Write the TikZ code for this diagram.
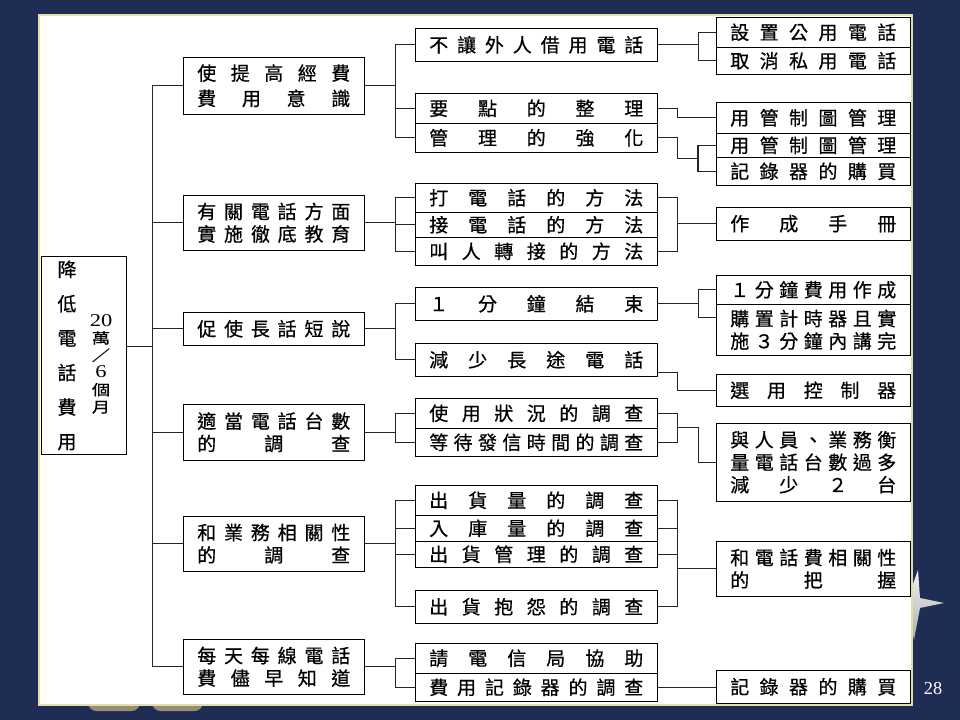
\documentclass[tikz,border=0pt]{standalone}
\usepackage{fontspec}
\setmainfont{Noto Sans CJK TC}[FakeBold=0.6]
\newfontfamily\numfont{Liberation Serif}
\usepackage{graphicx}
\usepackage{tikz}
\usetikzlibrary{positioning, calc}

\definecolor{slidebg}{RGB}{31,45,85}
\definecolor{panelrim}{RGB}{226,222,170}
\definecolor{tabtan}{RGB}{150,142,115}

% spread the characters of one line over a fixed width
\makeatletter
\newcommand\spreadline[2]{\makebox[#1][s]{\@tfor\sp@ch:=#2\do{\sp@ch\hfill}\unskip}}
\makeatother
\newcommand\lonetext[1]{\spreadline{3.825cm}{#1}}
\newcommand\ltwotext[1]{\spreadline{5.35cm}{#1}}
\newcommand\lthreetext[1]{\spreadline{4.15cm}{#1}}

\begin{document}
\begin{tikzpicture}[
        x=0.025cm, y=-0.025cm,
        box/.style={rectangle, draw, inner sep=0pt, anchor=north west, align=center,
            font=\fontsize{13.5}{16}\selectfont},
        ht/.style={minimum height=#1*0.025cm},
        lone/.style={box, minimum width=181*0.025cm},
        ltwo/.style={box, minimum width=242*0.025cm},
        lthree/.style={box, minimum width=194*0.025cm},
        link/.style={draw, line width=0.8pt, black!85},
    ]
        % Slide
        \useasboundingbox (0,0) rectangle (960,720);
        \fill[slidebg] (0,0) rectangle (960,720);
        \shade[top color=gray!10, bottom color=gray!65]
            (918,570) -- (920,598) -- (944,603) -- (920,608) -- (914,640)
            -- (908,608) -- (884,603) -- (908,598) -- cycle;
        \fill[tabtan, rounded corners=6pt] (88,690) rectangle (140,711);
        \fill[tabtan, rounded corners=6pt] (152,690) rectangle (203,711);
        \draw[panelrim, fill=white, line width=1pt] (39,15) rectangle (912,705);
        \node[white, font=\numfont\fontsize{13}{13}\selectfont] (page) at (933,689) {28};

        % Root
        \node[box, minimum width=85*0.025cm, ht=198] (root) at (41,256) {};
        \node[font=\fontsize{13.5}{24.5}\selectfont, align=center] (rootl) at (67,355.5)
            {降\\低\\電\\話\\費\\用};
        \node (rootr) at (101,364) {\scalebox{1}[0.8]{\parbox{2em}{\centering
            \fontsize{13}{15.3}\selectfont {\numfont\fontsize{16}{15.3}\selectfont 20}\\萬\\／\\
            {\numfont\fontsize{16}{15.3}\selectfont 6}\\個\\月}}};

        % Level 1
        \node[lone, ht=57] (s1) at (183,57) {\lonetext{使提高經費}\\[2pt]\lonetext{費用意識}};
        \node[lone, ht=55] (s2) at (183,195) {\lonetext{有關電話方面}\\\lonetext{實施徹底教育}};
        \node[lone, ht=33] (s3) at (183,312) {\lonetext{促使長話短說}};
        \node[lone, ht=56] (s4) at (183,404) {\lonetext{適當電話台數}\\\lonetext{的調查}};
        \node[lone, ht=55] (s5) at (183,516) {\lonetext{和業務相關性}\\\lonetext{的調查}};
        \node[lone, ht=55] (s6) at (183,639) {\lonetext{每天每線電話}\\\lonetext{費儘早知道}};

        % Level 2
        \node[ltwo, ht=33] (a1) at (415,28) {\ltwotext{不讓外人借用電話}};
        \node[ltwo, ht=30] (a2) at (415,93) {\ltwotext{要點的整理}};
        \node[ltwo, ht=29] (a3) at (415,123) {\ltwotext{管理的強化}};
        \node[ltwo, ht=29] (b1) at (415,183) {\ltwotext{打電話的方法}};
        \node[ltwo, ht=25] (b2) at (415,212) {\ltwotext{接電話的方法}};
        \node[ltwo, ht=28] (b3) at (415,237) {\ltwotext{叫人轉接的方法}};
        \node[ltwo, ht=33] (c1) at (415,287) {\ltwotext{１分鐘結束}};
        \node[ltwo, ht=33] (c2) at (415,343) {\ltwotext{減少長途電話}};
        \node[ltwo, ht=30] (d1) at (415,398) {\ltwotext{使用狀況的調查}};
        \node[ltwo, ht=28] (d2) at (415,428) {\ltwotext{等待發信時間的調查}};
        \node[ltwo, ht=30] (e1) at (415,485) {\ltwotext{出貨量的調查}};
        \node[ltwo, ht=26] (e2) at (415,515) {\ltwotext{入庫量的調查}};
        \node[ltwo, ht=26] (e3) at (415,541) {\ltwotext{出貨管理的調查}};
        \node[ltwo, ht=33] (e4) at (415,590) {\ltwotext{出貨抱怨的調查}};
        \node[ltwo, ht=30] (f1) at (415,643) {\ltwotext{請電信局協助}};
        \node[ltwo, ht=28] (f2) at (415,673) {\ltwotext{費用記錄器的調查}};

        % Level 3
        \node[lthree, ht=30] (p1) at (716,17) {\lthreetext{設置公用電話}};
        \node[lthree, ht=27] (p2) at (716,47) {\lthreetext{取消私用電話}};
        \node[lthree, ht=31] (q1) at (716,102) {\lthreetext{用管制圖管理}};
        \node[lthree, ht=24] (q2) at (716,133) {\lthreetext{用管制圖管理}};
        \node[lthree, ht=28] (q3) at (716,157) {\lthreetext{記錄器的購買}};
        \node[lthree, ht=33] (r1) at (716,207) {\lthreetext{作成手冊}};
        \node[lthree, ht=29] (t1) at (716,275) {\lthreetext{１分鐘費用作成}};
        \node[lthree, ht=51] (t2) at (716,304) {\lthreetext{購置計時器且實}\\\lthreetext{施３分鐘內講完}};
        \node[lthree, ht=32] (u1) at (716,374) {\lthreetext{選用控制器}};
        \node[lthree, ht=78] (v1) at (716,423)
            {\lthreetext{與人員、業務衡}\\\lthreetext{量電話台數過多}\\\lthreetext{減少２台}};
        \node[lthree, ht=55] (w1) at (716,541) {\lthreetext{和電話費相關性}\\\lthreetext{的把握}};
        \node[lthree, ht=33] (x1) at (716,670) {\lthreetext{記錄器的購買}};

        % Root to level 1
        \coordinate (rt) at ([shift={(0,-9)}]root.east);
        \foreach \n in {s1,s2,s3,s4,s5,s6}
            \draw[link] (rt) -- ++(26,0) |- (\n.west);

        % Level 1 to level 2
        \foreach \n in {a1,a2,a3} \draw[link] (s1.east) -- ++(31,0) |- (\n.west);
        \foreach \n in {b1,b2,b3} \draw[link] (s2.east) -- ++(31,0) |- (\n.west);
        \foreach \n in {c1,c2} \draw[link] (s3.east) -- ++(31,0) |- (\n.west);
        \foreach \n in {d1,d2} \draw[link] (s4.east) -- ++(31,0) |- (\n.west);
        \foreach \n in {e1,e2,e3,e4} \draw[link] (s5.east) -- ++(31,0) |- (\n.west);
        \foreach \n in {f1,f2} \draw[link] (s6.east) -- ++(31,0) |- (\n.west);

        % Level 2 to level 3
        \foreach \n in {p1,p2} \draw[link] (a1.east) -- ++(41,0) |- (\n.west);
        \draw[link] (a2.east) -- ++(20,0) |- (q1.west);
        \coordinate (qj) at ($(q2.west)!.5!(q3.west)+(-18,0)$);
        \draw[link] (a3.east) -- ++(20,0) |- (qj);
        \foreach \n in {q2,q3} \draw[link] (qj) |- (\n.west);
        \foreach \n in {b1,b3} \draw[link] (\n.east) -- ++(20,0) |- (r1.west);
        \draw[link] (c1.east) -- ++(41,0) |- (t1.west);
        \draw[link] (c1.east) -- ++(41,0) |- ([shift={(0,-12)}]t2.west);
        \draw[link] ([shift={(0,13)}]c2.east) -- ++(20,0) |- (u1.west);
        \coordinate (dj) at ($(d1.east)!.5!(d2.east)+(20,0)$);
        \foreach \n in {d1,d2} \draw[link] (\n.east) -| (dj);
        \draw[link] (dj) -- ++(21,0) |- (v1.west);
        \foreach \n in {e1,e2,e3,e4} \draw[link] (\n.east) -- ++(20,0) |- (w1.west);
        \draw[link] (f2.east) -- (f2.east -| x1.west);
\end{tikzpicture}
\end{document}
